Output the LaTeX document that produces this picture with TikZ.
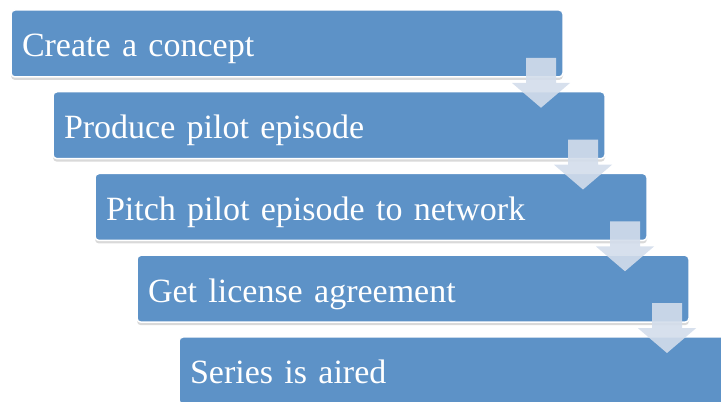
\documentclass[tikz,border=0pt]{standalone}
\usepackage{fontspec}
\setmainfont{Liberation Serif}
\usepackage{xcolor}
\usepackage{tikz}
\usetikzlibrary{positioning,shadows}
\definecolor{stepblue}{HTML}{5D92C7}
\definecolor{steparrow}{HTML}{D3DDEB}

\begin{document}
\begin{tikzpicture}[x=1pt,y=1pt,
    stepbox/.style={rectangle,rounded corners=4pt,fill=stepblue,draw=white,
      line width=1.5pt,outer sep=0pt,text=white,
      minimum height=67pt,text width=530pt,inner xsep=11pt,align=left,
      text height=30pt,text depth=3pt,font=\fontsize{34}{40}\selectfont,
      drop shadow={shadow xshift=0pt,shadow yshift=-3pt,opacity=.3,fill=black!50}},
    stepdown/.style={fill=steparrow,opacity=.9}]
        \useasboundingbox (0,0) rectangle (721,402);
        \clip (0,0) rectangle (721,402);
        % staircase of steps
        \node[stepbox,anchor=north west] (c1) at (11,392) {Create a concept};
        \node[stepbox,below right=14.75pt and 42pt of c1.south west] (c2) {Produce pilot episode};
        \node[stepbox,below right=14.75pt and 42pt of c2.south west] (c3) {Pitch pilot episode to network};
        \node[stepbox,below right=14.75pt and 42pt of c3.south west] (c4) {Get license agreement};
        \node[stepbox,below right=14.75pt and 42pt of c4.south west] (c5) {Series is aired};
        % block arrows down the right ends
        \foreach \a/\b in {c1/c2,c2/c3,c3/c4,c4/c5}{
          \fill[stepdown] ([shift={(-37,19)}]\a.south east) -- ([shift={(-7,19)}]\a.south east)
            -- ([shift={(-7,-6)}]\a.south east) -- ([shift={(7,-6)}]\a.south east)
            -- ([shift={(-64,-16)}]\b.north east)
            -- ([shift={(-51,-6)}]\a.south east) -- ([shift={(-37,-6)}]\a.south east) -- cycle;
        }
      \end{tikzpicture}
\end{document}
